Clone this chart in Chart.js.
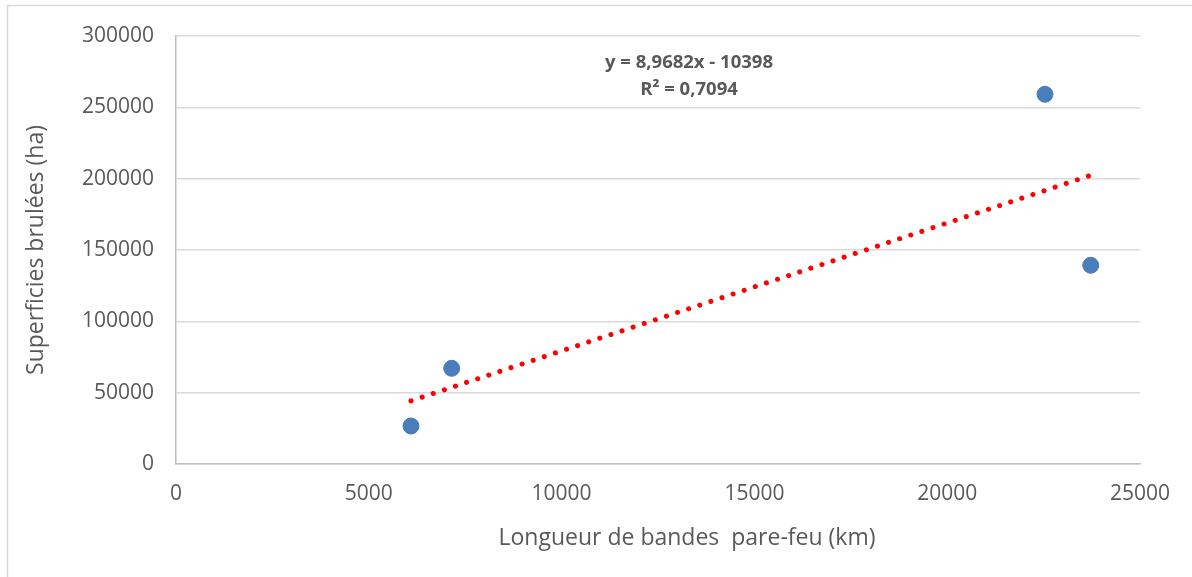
<!DOCTYPE html>
<html>
<head>
<meta charset="utf-8">
<script src="https://cdn.jsdelivr.net/npm/chart.js@4"></script>
<style>
html,body{margin:0;padding:0;background:#fff;}
#wrap{width:1192px;height:577px;position:relative;}
</style>
</head>
<body>
<div id="wrap"><canvas id="c" width="1192" height="577"></canvas></div>
<script>
const xValues = [6094, 7150, 22536, 23722];
const yValues = [26636, 67079, 259140, 139276];
const trendSlope = 8.9682;
const trendIntercept = -10398;
const trendLabels = ["y = 8,9682x - 10398", "R\u00B2 = 0,7094"];
const xTitle = "Longueur de bandes  pare-feu (km)";
const yTitle = "Superficies brul\u00E9es (ha)";

const points = xValues.map((x, i) => ({x: x, y: yValues[i]}));
const xMin = Math.min(...xValues), xMax = Math.max(...xValues);
const trend = [xMin, xMax].map(x => ({x: x, y: trendSlope * x + trendIntercept}));

const FONT = "'Open Sans', sans-serif";
const GREY = '#595959';

const framePlugin = {
  id: 'frame',
  beforeDraw(chart) {
    const ctx = chart.ctx;
    ctx.save();
    ctx.fillStyle = '#fff';
    ctx.fillRect(0, 0, chart.width, chart.height);
    ctx.strokeStyle = '#d9d9d9';
    ctx.lineWidth = 1.5;
    ctx.strokeRect(7.5, 5.5, chart.width + 10, chart.height + 10);
    ctx.restore();
  },
  afterDraw(chart) {
    const ctx = chart.ctx;
    const a = chart.chartArea;
    ctx.save();
    ctx.fillStyle = GREY;
    ctx.font = "bold 18.5px " + FONT;
    ctx.textAlign = 'center';
    ctx.textBaseline = 'middle';
    const cx = a.left + 513;
    ctx.fillText(trendLabels[0], cx, a.top + 27);
    ctx.fillText(trendLabels[1], cx, a.top + 54);
    ctx.font = "23px " + FONT;
    ctx.fillText(xTitle, a.left + 511, a.bottom + 74);
    ctx.restore();
  }
};

new Chart(document.getElementById('c'), {
  type: 'scatter',
  data: {
    datasets: [
      {
        label: 'data',
        data: points,
        backgroundColor: '#4a7ebb',
        borderColor: '#4a7ebb',
        pointRadius: 8,
        pointHoverRadius: 8,
        order: 1
      },
      {
        label: 'trend',
        type: 'line',
        data: trend,
        showLine: true,
        borderColor: '#ff0000',
        borderWidth: 5,
        borderCapStyle: 'round',
        borderDash: [0.1, 11.6],
        pointRadius: 0,
        fill: false,
        order: 2
      }
    ]
  },
  options: {
    responsive: false,
    animation: false,
    devicePixelRatio: 1,
    layout: {padding: {left: 0, right: 52, top: 36, bottom: 0}},
    plugins: {legend: {display: false}, tooltip: {enabled: false}},
    scales: {
      x: {
        type: 'linear',
        min: 0, max: 25000,
        ticks: {stepSize: 5000, color: GREY, font: {family: FONT, size: 21}, padding: 17,
                callback: v => String(v)},
        grid: {display: false, drawTicks: false},
        border: {display: true, color: '#bfbfbf', width: 1.5},
        title: {display: false, text: xTitle},
        afterFit(s) { s.height = 113; }
      },
      y: {
        type: 'linear',
        min: 0, max: 300000,
        ticks: {stepSize: 50000, color: GREY, font: {family: FONT, size: 21}, padding: 22,
                callback: v => String(v)},
        grid: {color: '#d9d9d9', lineWidth: 1.5, drawTicks: false},
        border: {display: true, color: '#bfbfbf', width: 1.5},
        title: {display: true, text: yTitle, color: GREY, font: {family: FONT, size: 23}, padding: {top: 23, bottom: 0}},
        afterFit(s) { s.width = 176; }
      }
    }
  },
  plugins: [framePlugin]
});
</script>
</body>
</html>
